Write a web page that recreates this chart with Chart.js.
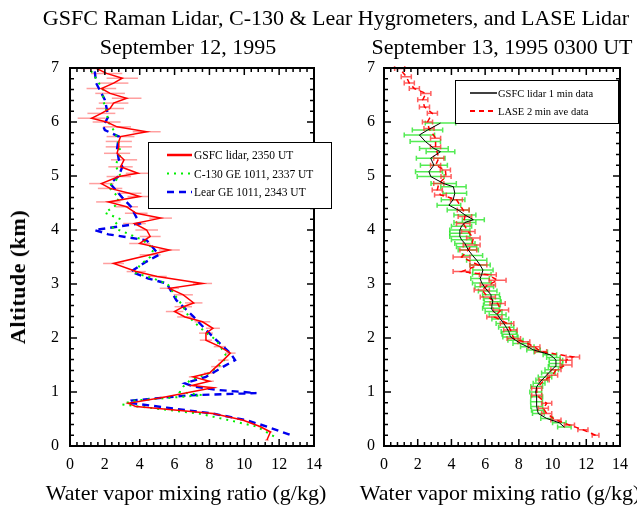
<!DOCTYPE html>
<html>
<head>
<meta charset="utf-8">
<script src="https://cdn.jsdelivr.net/npm/chart.js"></script>
<style>
  body { margin: 0; background: #fff; width: 637px; height: 506px; position: relative; overflow: hidden; font-family: "Liberation Serif", serif; }
  .t { position: absolute; white-space: nowrap; color: #000; font-size: 22px; line-height: 26px; transform: translateX(-50%); z-index: 2; }
  #ylab { position: absolute; left: 18px; top: 277px; white-space: nowrap; font-size: 22px; font-weight: bold; letter-spacing: 0.5px; transform: translate(-50%, -50%) rotate(-90deg); }
  #c1 { position: absolute; left: 0; top: 0; }
  #c2 { position: absolute; left: 340px; top: 0; }
</style>
</head>
<body>
<canvas id="c1" width="340" height="506"></canvas>
<canvas id="c2" width="297" height="506"></canvas>
<div class="t" style="left:336px; top:5px;">GSFC Raman Lidar, C-130 &amp; Lear Hygrometers, and LASE Lidar</div>
<div class="t" style="left:188px; top:34px;">September 12, 1995</div>
<div class="t" style="left:502px; top:34px;">September 13, 1995 0300 UT</div>
<div class="t" style="left:186px; top:480px;">Water vapor mixing ratio (g/kg)</div>
<div class="t" style="left:500px; top:480px;">Water vapor mixing ratio (g/kg)</div>
<div id="ylab">Altitude (km)</div>
<script>
// ---- left panel: Sept 12 ----
const lidarAlt = [0.11,0.26,0.36,0.48,0.60,0.73,0.79,0.90,1.08,1.12,
  1.20,1.28,1.35,1.47,1.59,1.72,1.84,1.96,2.09,2.18,
  2.30,2.39,2.49,2.58,2.65,2.80,2.92,3.01,3.14,3.23,
  3.38,3.54,3.63,3.75,3.88,4.00,4.12,4.22,4.31,4.43,
  4.52,4.62,4.68,4.77,4.86,4.99,5.05,5.17,5.30,5.42,
  5.54,5.64,5.73,5.82,5.91,6.00,6.07,6.16,6.25,6.35,
  6.44,6.53,6.62,6.72,6.81,6.90,6.99];
const lidarWv = [11.3,11.5,10.9,9.9,8.2,3.8,3.35,5.3,8.2,7.0,
  8.0,7.07,8.0,8.4,8.8,9.2,8.6,7.8,7.8,8.2,
  7.6,6.6,6.0,6.5,7.1,6.5,5.7,7.6,5.0,3.8,
  2.5,4.6,5.7,4.0,4.6,4.4,3.7,5.2,3.8,3.25,
  2.2,4.0,3.4,2.3,1.8,2.8,3.9,2.9,3.1,2.7,
  2.8,2.8,2.9,4.4,2.7,2.1,1.24,1.8,2.3,2.5,
  3.25,2.3,1.8,2.5,3.0,2.1,1.53];
const lidarErr = [0.1,0.1,0.1,0.15,0.15,0.15,0.15,0.15,0.2,0.2,
  0.25,0.25,0.3,0.3,0.3,0.3,0.35,0.35,0.4,0.4,
  0.45,0.45,0.5,0.5,0.5,0.55,0.55,0.55,0.55,0.55,
  0.6,0.6,0.6,0.6,0.6,0.65,0.65,0.65,0.65,0.65,
  0.7,0.7,0.7,0.7,0.7,0.7,0.7,0.7,0.75,0.75,
  0.75,0.75,0.8,0.8,0.8,0.8,0.8,0.8,0.8,0.85,
  0.85,0.85,0.85,0.85,0.9,0.9,0.9];

const c130Alt = [0.18,0.36,0.45,0.60,0.69,0.77,0.84,0.94,1.00,1.10,
  1.22,1.35,1.50,1.65,1.80,1.96,2.10,2.27,2.40,2.58,
  2.80,3.00,3.10,3.20,3.35,3.50,3.65,3.81,3.95,4.05,
  4.20,4.32,4.45,4.60,4.80,5.00,5.20,5.40,5.60,5.80,
  6.00,6.20,6.40,6.60,6.80,7.00];
const c130Wv = [11.7,10.7,9.5,7.4,5.0,3.0,3.6,7.6,6.3,6.5,
  6.9,8.0,8.6,9.0,8.7,8.4,7.8,7.2,6.8,6.5,
  6.0,5.6,4.8,3.8,4.0,4.6,4.8,4.2,3.2,2.4,
  2.9,2.0,2.6,2.8,2.2,2.9,2.6,2.9,2.8,2.6,
  2.2,2.1,1.9,1.9,1.5,1.1];

const learAlt = [0.21,0.36,0.48,0.60,0.71,0.80,0.84,0.94,0.98,1.04,
  1.10,1.16,1.28,1.47,1.59,1.72,1.96,2.15,2.39,2.70,
  3.01,3.10,3.23,3.40,3.54,3.70,3.81,3.92,4.00,4.12,
  4.30,4.43,4.60,4.86,5.00,5.17,5.30,5.50,5.73,5.85,
  5.92,6.10,6.41,6.72,7.00];
const learWv = [12.6,11.3,10.1,8.2,5.55,3.35,3.5,6.9,10.7,8.4,
  7.1,6.6,7.8,8.8,9.47,9.2,8.4,7.8,7.1,6.1,
  5.55,4.5,3.5,4.3,5.1,4.7,4.4,2.2,1.4,4.0,
  3.7,3.5,3.0,2.3,2.8,3.0,2.8,2.7,2.8,2.0,
  1.9,2.2,2.0,1.5,1.4];

// ---- right panel: Sept 13 ----
const lidar1Alt = [0.35,0.43,0.51,0.60,0.66,0.73,0.82,0.91,1.00,1.10,
  1.16,1.22,1.28,1.35,1.41,1.47,1.53,1.59,1.64,1.69,
  1.74,1.78,1.84,1.90,1.96,2.02,2.07,2.12,2.20,2.27,
  2.35,2.43,2.49,2.55,2.61,2.67,2.73,2.80,2.87,2.95,
  3.02,3.10,3.18,3.26,3.35,3.44,3.53,3.63,3.69,3.75,
  3.82,3.88,3.94,4.00,4.07,4.14,4.19,4.28,4.37,4.46,
  4.56,4.68,4.80,4.86,4.99,5.08,5.20,5.33,5.45,5.51,
  5.64,5.76,5.85,5.98];
const lidar1Wv = [10.7,10.4,9.65,9.16,9.1,9.06,9.05,9.06,9.0,9.06,
  9.2,9.36,9.55,9.75,9.95,10.15,10.2,10.2,10.05,9.84,
  9.3,8.87,8.5,8.1,7.8,7.5,7.45,7.4,7.25,7.1,
  6.9,6.74,6.5,6.35,6.4,6.45,6.4,6.35,6.15,5.95,
  5.8,5.7,5.8,5.87,5.7,5.5,5.25,5.0,4.9,4.8,
  4.6,4.5,4.5,4.5,4.6,4.8,5.3,4.8,4.4,3.85,
  4.1,4.2,4.12,3.54,2.77,2.67,2.96,2.77,3.35,2.96,
  2.45,2.1,2.58,3.35];
const lidar1Err = [0.4,0.4,0.35,0.35,0.35,0.35,0.35,0.35,0.35,0.35,
  0.35,0.35,0.4,0.4,0.4,0.4,0.4,0.4,0.4,0.4,
  0.4,0.4,0.4,0.45,0.45,0.45,0.45,0.45,0.45,0.45,
  0.5,0.5,0.5,0.5,0.5,0.5,0.5,0.5,0.55,0.55,
  0.55,0.55,0.55,0.6,0.6,0.6,0.6,0.6,0.6,0.6,
  0.6,0.6,0.6,0.6,0.6,0.65,0.65,0.65,0.65,0.7,
  0.7,0.7,0.75,0.75,0.8,0.8,0.8,0.85,0.85,0.85,
  0.9,0.9,0.9,0.9];

const laseAlt = [0.20,0.30,0.39,0.48,0.60,0.70,0.79,0.94,1.07,1.22,
  1.31,1.41,1.50,1.59,1.65,1.75,1.84,1.93,1.99,2.15,
  2.27,2.39,2.52,2.64,2.76,2.89,2.98,3.07,3.17,3.23,
  3.35,3.50,3.63,3.72,3.85,3.97,4.12,4.25,4.37,4.56,
  4.65,4.74,4.86,4.99,5.11,5.20,5.33,5.54,5.70,5.88,
  6.00,6.16,6.28,6.41,6.53,6.62,6.72,6.84,6.99];
const laseWv = [12.55,11.8,11.0,10.2,9.65,9.45,9.65,9.06,9.06,9.5,
  10.0,10.2,10.8,10.8,11.2,9.3,8.9,8.3,7.7,7.5,
  7.3,6.55,6.94,6.74,6.16,5.8,6.16,6.74,6.16,4.6,
  5.6,4.6,5.0,5.2,5.3,5.0,4.7,4.8,4.7,4.3,
  3.35,3.16,3.25,3.68,3.64,3.06,3.25,3.06,3.06,2.67,
  2.58,2.87,2.4,2.3,2.48,1.8,1.5,1.32,0.93];
const laseErr = [0.2,0.3,0.3,0.3,0.3,0.3,0.3,0.3,0.3,0.3,
  0.3,0.3,0.35,0.35,0.4,0.35,0.35,0.35,0.4,0.4,
  0.4,0.45,0.45,0.45,0.45,0.45,0.45,0.5,0.5,0.5,
  0.5,0.5,0.5,0.5,0.4,0.4,0.4,0.4,0.35,0.35,
  0.35,0.3,0.3,0.3,0.3,0.3,0.3,0.3,0.3,0.3,
  0.3,0.3,0.3,0.3,0.3,0.3,0.3,0.3,0.3];

const xTicks = [0, 2, 4, 6, 8, 10, 12, 14];
const yTicks = [0, 1, 2, 3, 4, 5, 6, 7];

function pts(wv, alt) {
  return wv.map((v, i) => ({ x: v, y: alt[i] }));
}

// horizontal error bars, drawn under the lines
const errorBars = {
  id: 'errorBars',
  beforeDatasetsDraw(chart) {
    const { ctx, scales: { x, y } } = chart;
    ctx.save();
    chart.data.datasets.forEach(ds => {
      if (!ds.errs) return;
      ctx.strokeStyle = ds.errColor;
      ctx.lineWidth = 1.5;
      ds.data.forEach((p, i) => {
        const e = ds.errs[i];
        const x0 = x.getPixelForValue(p.x - e), x1 = x.getPixelForValue(p.x + e);
        const yy = y.getPixelForValue(p.y);
        ctx.beginPath();
        ctx.moveTo(x0, yy); ctx.lineTo(x1, yy);
        if (ds.errCap) {
          ctx.moveTo(x0, yy - ds.errCap); ctx.lineTo(x0, yy + ds.errCap);
          ctx.moveTo(x1, yy - ds.errCap); ctx.lineTo(x1, yy + ds.errCap);
        }
        ctx.stroke();
      });
    });
    ctx.restore();
  }
};

// box with inward ticks on all four sides
const frame = {
  id: 'frame',
  afterDraw(chart) {
    const { ctx, chartArea: a, scales: { x, y } } = chart;
    ctx.save();
    ctx.strokeStyle = '#000';
    ctx.lineWidth = 1.5;
    ctx.beginPath();
    for (let i = 0; i <= 35; i++) {
      const len = i % 5 === 0 ? 7 : 4;
      const px = x.getPixelForValue(i * 0.4);
      ctx.moveTo(px, a.bottom); ctx.lineTo(px, a.bottom - len);
      ctx.moveTo(px, a.top); ctx.lineTo(px, a.top + len);
      const py = y.getPixelForValue(i * 0.2);
      ctx.moveTo(a.left, py); ctx.lineTo(a.left + len, py);
      ctx.moveTo(a.right, py); ctx.lineTo(a.right - len, py);
    }
    ctx.stroke();
    ctx.lineWidth = 2;
    ctx.strokeRect(a.left, a.top, a.right - a.left, a.bottom - a.top);
    ctx.restore();
  }
};

const boxLegend = {
  id: 'boxLegend',
  afterDraw(chart, args, o) {
    const ctx = chart.ctx;
    ctx.save();
    ctx.fillStyle = '#fff';
    ctx.fillRect(o.x, o.y, o.w, o.h);
    ctx.strokeStyle = '#000';
    ctx.lineWidth = 1;
    ctx.strokeRect(o.x + 0.5, o.y + 0.5, o.w, o.h);
    ctx.font = o.font;
    ctx.textBaseline = 'middle';
    chart.data.datasets.forEach((ds, i) => {
      const yy = o.y + o.first + i * o.gap;
      ctx.strokeStyle = ds.borderColor;
      ctx.lineWidth = ds.legendWidth || ds.borderWidth;
      ctx.setLineDash(ds.borderDash || []);
      ctx.beginPath();
      ctx.moveTo(o.x + o.lx0, yy); ctx.lineTo(o.x + o.lx1, yy);
      ctx.stroke();
      ctx.setLineDash([]);
      ctx.fillStyle = '#000';
      ctx.fillText(ds.label, o.x + o.tx, yy + 1);
    });
    ctx.restore();
  }
};

const serif = 'Liberation Serif';

function scales(yWidth, yPad) {
  return {
    x: {
      type: 'linear', min: 0, max: 14,
      afterFit: s => { s.height = 60; },
      afterBuildTicks: s => { s.ticks = xTicks.map(v => ({ value: v })); },
      grid: { display: false, drawTicks: false },
      border: { display: false },
      ticks: { font: { family: serif, size: 16 }, color: '#000', padding: 9, maxRotation: 0 }
    },
    y: {
      type: 'linear', min: 0, max: 7,
      afterFit: s => { s.width = yWidth; },
      afterBuildTicks: s => { s.ticks = yTicks.map(v => ({ value: v })); },
      grid: { display: false, drawTicks: false },
      border: { display: false },
      ticks: { font: { family: serif, size: 16 }, color: '#000', padding: yPad }
    }
  };
}

new Chart(document.getElementById('c1'), {
  type: 'scatter',
  data: {
    datasets: [
      { label: 'GSFC lidar, 2350 UT', data: pts(lidarWv, lidarAlt), showLine: true,
        borderColor: '#ff0000', borderWidth: 1.5, legendWidth: 2.5, pointRadius: 0,
        errs: lidarErr, errColor: 'rgba(255,80,80,0.55)' },
      { label: 'C-130 GE 1011, 2337 UT', data: pts(c130Wv, c130Alt), showLine: true,
        borderColor: '#00ee00', borderWidth: 2, borderDash: [2, 5], pointRadius: 0 },
      { label: 'Lear GE 1011, 2343 UT', data: pts(learWv, learAlt), showLine: true,
        borderColor: '#0000ee', borderWidth: 2.4, borderDash: [7, 5], pointRadius: 0 }
    ]
  },
  options: {
    responsive: false, animation: false,
    layout: { padding: { left: 0, top: 68, right: 26, bottom: 0 } },
    plugins: {
      legend: { display: false }, tooltip: { enabled: false },
      boxLegend: { x: 148, y: 142, w: 183, h: 66, first: 13, gap: 18.5,
                   lx0: 19, lx1: 44, tx: 46, font: '11.5px "Liberation Serif"' }
    },
    scales: scales(70, 11)
  },
  plugins: [errorBars, frame, boxLegend]
});

new Chart(document.getElementById('c2'), {
  type: 'scatter',
  data: {
    datasets: [
      { label: 'GSFC lidar 1 min data', data: pts(lidar1Wv, lidar1Alt), showLine: true,
        borderColor: '#000000', borderWidth: 1, legendWidth: 1.5, pointRadius: 0,
        errs: lidar1Err, errColor: 'rgba(40,230,40,0.8)', errCap: 2.5 },
      { label: 'LASE 2 min ave data', data: pts(laseWv, laseAlt), showLine: true,
        borderColor: '#ff0000', borderWidth: 1.5, legendWidth: 2, borderDash: [5, 4], pointRadius: 0,
        errs: laseErr, errColor: 'rgba(255,40,40,0.75)', errCap: 2.5 }
    ]
  },
  options: {
    responsive: false, animation: false,
    layout: { padding: { left: 0, top: 68, right: 12, bottom: 0 } },
    plugins: {
      legend: { display: false }, tooltip: { enabled: false },
      boxLegend: { x: 115, y: 80, w: 163, h: 43, first: 13, gap: 18,
                   lx0: 15, lx1: 42, tx: 43, font: '10.5px "Liberation Serif"' }
    },
    scales: scales(44, 9)
  },
  plugins: [errorBars, frame, boxLegend]
});
</script>
</body>
</html>
